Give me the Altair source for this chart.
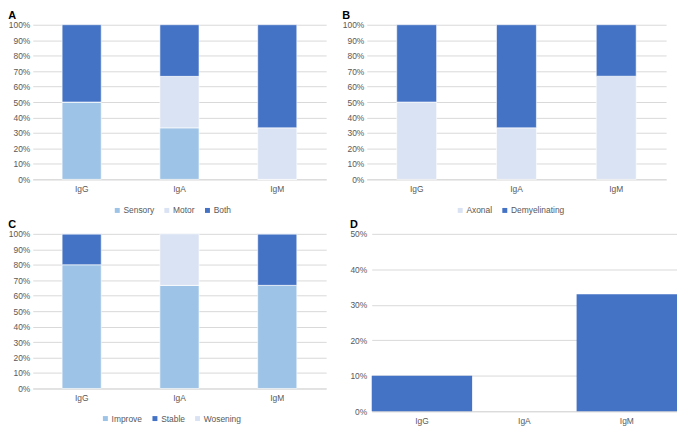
import altair as alt
import pandas as pd

groups = ["IgG", "IgA", "IgM"]

a_cats = ["Sensory", "Motor", "Both"]
a_sensory = [50, 33.3, 0]
a_motor = [0, 33.3, 33.3]
a_both = [50, 33.4, 66.7]

b_cats = ["Axonal", "Demyelinating"]
b_axonal = [50, 33.3, 66.7]
b_demy = [50, 66.7, 33.3]

c_cats = ["Improve", "Stable", "Wosening"]
c_improve = [80, 66.7, 66.7]
c_stable = [20, 0, 33.3]
c_wos = [0, 33.3, 0]

d_vals = [10, 0, 33]

LIGHT = "#9DC3E6"
PALE = "#DAE3F3"
DARK = "#4472C4"
TXT = "#595959"
GRID = "#D9D9D9"
FS = 8.5


def long_df(cats, series):
    rows = []
    for ci, (c, vals) in enumerate(zip(cats, series)):
        for g, v in zip(groups, vals):
            rows.append({"group": g, "cat": c, "value": v, "ord": ci})
    return pd.DataFrame(rows)


def title(label):
    return alt.TitleParams(label, anchor="start", frame="bounds", fontSize=11,
                           fontWeight="bold", color="black", offset=0)


def stacked(label, cats, series, colors, w, h, lx, ly):
    df = long_df(cats, series)
    return alt.Chart(df, title=title(label)).mark_bar(stroke="white", strokeWidth=0.6).encode(
        x=alt.X("group:N", sort=groups, title=None,
                scale=alt.Scale(paddingInner=0.6, paddingOuter=0.3),
                axis=alt.Axis(labelAngle=0, ticks=False, domainColor=GRID,
                              labelColor=TXT, labelFontSize=FS, labelPadding=5)),
        y=alt.Y("value:Q", stack="zero", title=None,
                scale=alt.Scale(domain=[0, 100], nice=False),
                axis=alt.Axis(values=list(range(0, 101, 10)), labelExpr="datum.value + '%'",
                              ticks=False, domain=False, gridColor=GRID,
                              labelColor=TXT, labelFontSize=FS, labelPadding=3)),
        color=alt.Color("cat:N", title=None,
                        scale=alt.Scale(domain=cats, range=colors),
                        legend=alt.Legend(orient="none", legendX=lx, legendY=ly,
                                          direction="horizontal",
                                          symbolType="square", symbolSize=25,
                                          symbolStrokeWidth=0, labelColor=TXT,
                                          labelFontSize=FS, columnPadding=8,
                                          labelOffset=2, padding=0)),
        order=alt.Order("ord:Q"),
    ).properties(width=w, height=h)


pA = stacked("A", a_cats, [a_sensory, a_motor, a_both], [LIGHT, PALE, DARK], 296, 156, 81, 183)
pB = stacked("B", b_cats, [b_axonal, b_demy], [PALE, DARK], 302, 156, 90, 183)
pC = stacked("C", c_cats, [c_improve, c_stable, c_wos], [LIGHT, DARK, PALE], 296, 156, 69, 182)

dfD = pd.DataFrame({"group": groups, "value": d_vals})
pD = alt.Chart(dfD, title=title("D")).mark_bar(color=DARK).encode(
    x=alt.X("group:N", sort=groups, title=None,
            scale=alt.Scale(paddingInner=0.02, paddingOuter=0),
            axis=alt.Axis(labelAngle=0, ticks=False, domainColor=GRID,
                          labelColor=TXT, labelFontSize=FS, labelPadding=5)),
    y=alt.Y("value:Q", title=None, scale=alt.Scale(domain=[0, 50], nice=False),
            axis=alt.Axis(values=list(range(0, 51, 10)), labelExpr="datum.value + '%'",
                          ticks=False, domain=False, gridColor=GRID,
                          labelColor=TXT, labelFontSize=FS, labelPadding=5)),
).properties(width=308, height=179)

row1 = alt.hconcat(pA, pB, spacing=16).resolve_scale(color="independent", x="independent", y="independent")
row2 = alt.hconcat(pC, pD, spacing=23).resolve_scale(color="independent", x="independent", y="independent")

chart = alt.vconcat(row1, row2, spacing=4).resolve_scale(
    color="independent", x="independent", y="independent"
).properties(padding=0).configure(font="Liberation Sans").configure_view(stroke=None)

chart.save("out.html", embed_options={"renderer": "svg", "actions": False})
